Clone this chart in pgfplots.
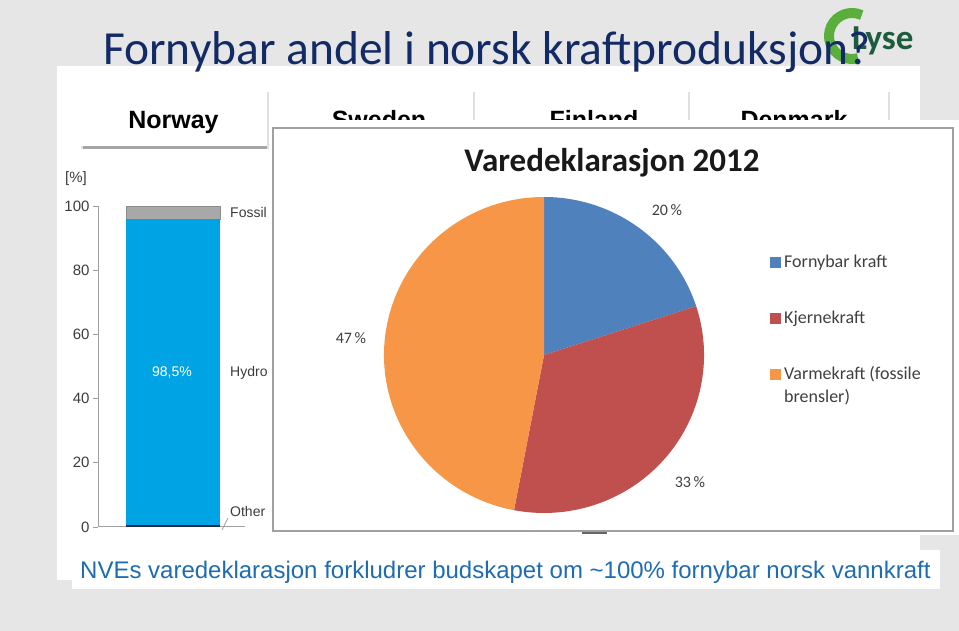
\documentclass[border=0pt]{standalone}
\usepackage{pgfplots}
\pgfplotsset{compat=1.18}
\usepackage{pgfplotstable}
\usepackage{fontspec}
\setmainfont{Liberation Sans}
\newfontfamily\calibri{Carlito}
\definecolor{bggray}{RGB}{230,230,230}
\definecolor{titlenavy}{RGB}{18,42,102}
\definecolor{captionblue}{RGB}{30,108,178}
\definecolor{axisgray}{RGB}{160,160,160}
\definecolor{ticktext}{RGB}{60,60,60}
\definecolor{hydroblue}{RGB}{0,163,227}
\definecolor{fossilgray}{RGB}{168,168,168}
\definecolor{othernavy}{RGB}{30,40,70}
\definecolor{pieblue}{RGB}{79,129,189}
\definecolor{piered}{RGB}{192,80,77}
\definecolor{pieorange}{RGB}{247,150,70}
\definecolor{lysegreen}{RGB}{90,175,60}
\definecolor{lysedark}{RGB}{28,92,60}

\pgfplotstableread{
name value
Fornybar 20
Kjerne 33
Varme 47
}\piedata

\begin{document}
\begin{tikzpicture}[x=1pt,y=1pt]
\pgfplotstablegetelem{0}{value}\of\piedata \let\vA\pgfplotsretval
\pgfplotstablegetelem{1}{value}\of\piedata \let\vB\pgfplotsretval
\pgfplotstablegetelem{2}{value}\of\piedata \let\vC\pgfplotsretval
\pgfmathsetmacro\aA{90}
\pgfmathsetmacro\aB{90-3.6*\vA}
\pgfmathsetmacro\aC{\aB-3.6*\vB}
\pgfmathsetmacro\aD{\aC-3.6*\vC}
\useasboundingbox (0,0) rectangle (959,631);
% background
\fill[bggray] (0,0) rectangle (959,631);
% white panel and caption box
\fill[white] (57,51) rectangle (920,565);
\fill[white] (72,42) rectangle (940,81);
% logo
\draw[lysegreen, line width=10pt] (852,595) ++(65:23) arc[start angle=65, end angle=285, radius=23];
\node[anchor=base west, inner sep=0, text=lysedark, font=\calibri\bfseries\fontsize{35}{35}\selectfont] at (852,581) {Lyse};
% title
\node[anchor=base west, inner sep=0, text=titlenavy, font=\calibri\fontsize{47.5}{50}\selectfont] at (103,566) {Fornybar andel i norsk kraftproduksjon?};
% header boxes
\foreach \xa/\xb/\lab in {80/267/Norway,285/473/Sweden,500/688/Finland,700/888/Denmark}{
  \fill[black!12] (\xa+1,482) rectangle (\xb+2,539);
  \fill[black!35] (\xa+3,482) rectangle (\xb,485);
  \fill[white] (\xa,485) rectangle (\xb,541);
  \node[anchor=base, inner sep=0, font=\bfseries\fontsize{25}{25}\selectfont] at ({(\xa+\xb)/2},502) {\lab};
}
% bar chart
\begin{axis}[
  at={(98pt,104pt)}, anchor=south west,
  scale only axis, width=147pt, height=321pt,
  xmin=0, xmax=147, ymin=0, ymax=100,
  axis x line=bottom, axis y line=left,
  axis line style={-, draw=axisgray, line width=1pt},
  ytick={0,20,40,60,80,100}, xtick=\empty,
  tick align=outside, major tick length=5pt,
  tick style={draw=axisgray, line width=0.8pt},
  yticklabel style={font=\fontsize{15}{15}\selectfont, text=ticktext},
  /pgf/number format/assume math mode=true,
  ybar stacked, bar width=94pt, clip=false,
]
\addplot[fill=othernavy, draw=none] coordinates {(75,0.6)};
\addplot[fill=hydroblue, draw=none] coordinates {(75,95.4)};
\addplot[fill=fossilgray, draw=black!45, line width=0.4pt] coordinates {(75,4)};
\end{axis}
\node[font=\fontsize{15}{15}\selectfont, text=ticktext] at (76,452) {[\%]};
\node[anchor=west, inner sep=1pt, font=\fontsize{14}{14}\selectfont, text=ticktext] at (229,418) {Fossil};
\node[anchor=west, inner sep=1pt, font=\fontsize{14}{14}\selectfont, text=ticktext] at (229,258) {Hydro};
\node[anchor=west, inner sep=1pt, font=\fontsize{14}{14}\selectfont, text=ticktext] at (229,119) {Other};
\node[font=\fontsize{14}{14}\selectfont, text=white] at (172,258) {98,5\%};
\draw[axisgray, line width=0.8pt] (222,101) -- (228,113);
% pie image region
\fill[white] (270,96) rectangle (959,511);
\draw[axisgray, line width=1.5pt] (273,100) rectangle (953,503);
\draw[black!60, line width=1.5pt] (582,98) -- (607,98);
\node[anchor=center, font=\calibri\bfseries\fontsize{33}{33}\selectfont, text=black!90] at (612,468) {Varedeklarasjon 2012};
\begin{axis}[
  at={(384pt,118pt)}, anchor=south west,
  scale only axis, width=320pt, height=316pt,
  xmin=-160, xmax=160, ymin=-158, ymax=158,
  hide axis, clip=false,
]
\fill[pieblue] (axis cs:0,0) -- ++(\aA:160pt and 158pt) arc[start angle=\aA, end angle=\aB, x radius=160pt, y radius=158pt] -- cycle;
\fill[piered] (axis cs:0,0) -- ++(\aB:160pt and 158pt) arc[start angle=\aB, end angle=\aC, x radius=160pt, y radius=158pt] -- cycle;
\fill[pieorange] (axis cs:0,0) -- ++(\aC:160pt and 158pt) arc[start angle=\aC, end angle=\aD, x radius=160pt, y radius=158pt] -- cycle;
\end{axis}
\node[font=\calibri\fontsize{16}{16}\selectfont, text=black!75] at (667,421) {\vA\,\%};
\node[font=\calibri\fontsize{16}{16}\selectfont, text=black!75] at (690,149) {\vB\,\%};
\node[font=\calibri\fontsize{16}{16}\selectfont, text=black!75] at (351,293) {\vC\,\%};
% legend
\fill[pieblue] (770,363) rectangle (781,374);
\fill[piered] (770,307) rectangle (781,318);
\fill[pieorange] (770,251) rectangle (781,262);
\node[anchor=west, inner sep=1pt, font=\calibri\fontsize{18}{18}\selectfont, text=black!75] at (783,368) {Fornybar kraft};
\node[anchor=west, inner sep=1pt, font=\calibri\fontsize{18}{18}\selectfont, text=black!75] at (783,312) {Kjernekraft};
\node[anchor=north west, inner sep=1pt, align=left, font=\calibri\fontsize{18}{23}\selectfont, text=black!75] at (783,266) {Varmekraft (fossile\\brensler)};
% caption
\node[anchor=base west, inner sep=0, text=captionblue, font=\fontsize{24}{24}\selectfont] at (80,52) {NVEs varedeklarasjon forkludrer budskapet om \textasciitilde100\% fornybar norsk vannkraft};
\end{tikzpicture}
\end{document}
